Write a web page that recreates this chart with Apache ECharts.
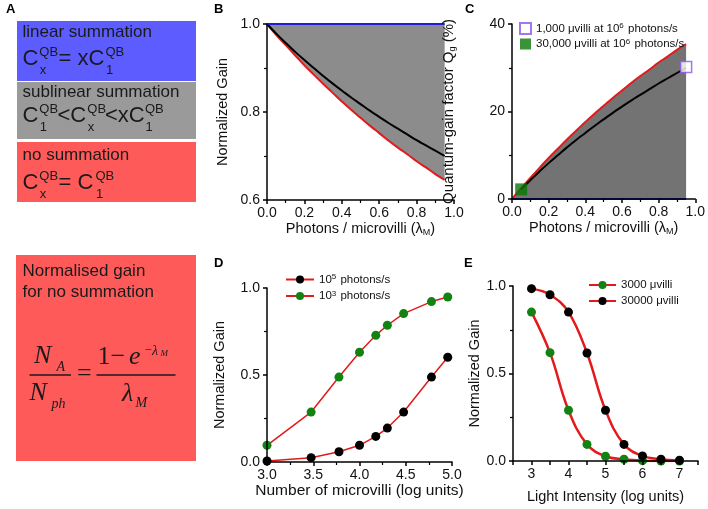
<!DOCTYPE html>
<html>
<head>
<meta charset="utf-8">
<script src="https://cdn.jsdelivr.net/npm/echarts@6/dist/echarts.min.js"></script>
<style>
  html, body { margin: 0; padding: 0; background: #fff; }
  #main { width: 708px; height: 509px; }
</style>
</head>
<body>
<div id="main"></div>
<script>
// ---- data ----
// panels B / C: photons per microvillus
const lamX = [0, 0.05, 0.1, 0.15, 0.2, 0.25, 0.3, 0.35, 0.4, 0.45, 0.5, 0.55, 0.6, 0.65, 0.7, 0.75, 0.8, 0.85, 0.9, 0.95]
const gainNoSum = [1.0, 0.975, 0.952, 0.929, 0.906, 0.885, 0.864, 0.844, 0.824, 0.805, 0.787, 0.769, 0.752, 0.735, 0.719, 0.704, 0.688, 0.674, 0.659, 0.646]
const gainSublin = [1.0, 0.978, 0.957, 0.937, 0.918, 0.900, 0.882, 0.865, 0.849, 0.833, 0.818, 0.803, 0.789, 0.775, 0.762, 0.749, 0.736, 0.724, 0.712, 0.700]
const gainLinear = [1.0, 1.0]
const linX = [0, 0.95]
const qgNoSum = [0, 2.5, 4.8, 7.1, 9.4, 11.5, 13.6, 15.6, 17.6, 19.5, 21.3, 23.1, 24.8, 26.5, 28.1, 29.6, 31.2, 32.6, 34.1, 35.4]
const qgSublin = [null, 2.2, 4.3, 6.3, 8.2, 10.0, 11.8, 13.5, 15.1, 16.7, 18.2, 19.7, 21.1, 22.5, 23.8, 25.1, 26.4, 27.6, 28.8, 30.0]
const qgLinear = [0, 0]
const pt1000 = [0.95, 30.2]
const pt30000 = [0.05, 2.2]

// panel D: number of microvilli (log units)
const logVilli = [3.0, 3.477, 3.778, 4.0, 4.176, 4.301, 4.477, 4.778, 4.954]
const gain1e5 = [0.006, 0.025, 0.059, 0.096, 0.147, 0.195, 0.287, 0.488, 0.602]
const gain1e3 = [0.096, 0.287, 0.488, 0.631, 0.728, 0.786, 0.853, 0.922, 0.948]

// panel E: light intensity (log units)
const logLight = [3, 3.5, 4, 4.5, 5, 5.5, 6, 6.5, 7]
const gain3000 = [0.851, 0.619, 0.290, 0.095, 0.027, 0.010, 0.002, 0.0, 0.0]
const gain30000 = [0.985, 0.950, 0.851, 0.617, 0.290, 0.095, 0.029, 0.010, 0.004]

const FONT = 'Arial, "Liberation Sans", sans-serif'
const SERIF = '"Times New Roman", "Liberation Serif", serif'
const RED = '#e31a1c'
const BLUE = '#1f1fd1'
const GREEN = '#128212'

const pairs = (xs, ys) => xs.map((x, i) => [x, ys[i]])

// common axis look
function axis(extra) {
  return Object.assign({
    type: 'value',
    z: 10,
    axisLine: {show: true, lineStyle: {color: '#000', width: 1.5}},
    axisTick: {show: true, inside: false, length: 4, lineStyle: {color: '#000', width: 1.5}},
    minorTick: {show: true, splitNumber: 2, length: 3, lineStyle: {color: '#000', width: 1.2}},
    splitLine: {show: false},
    axisLabel: {color: '#111', fontSize: 14, fontFamily: FONT, margin: 6},
    nameLocation: 'middle',
    nameTextStyle: {color: '#111', fontSize: 14.5, fontFamily: FONT,
      rich: {sub: {fontSize: 9, fontFamily: FONT, color: '#111', padding: [8, 0, 0, 0]}}}
  }, extra)
}

// panel A text pieces
function txt(x, y, text, font, fill) {
  return {type: 'text', x: x, y: y, style: {text: text, font: font, fill: fill || '#1a1a1a',
    textVerticalAlign: 'middle', verticalAlign: 'middle', textAlign: 'left', align: 'left'}}
}
const big = '22px ' + FONT
const small = '13px ' + FONT
const lab = '17px ' + FONT

function cqb(x, y, sub) { // superscript QB with a subscript below
  return [txt(x, y - 7, 'QB', small), txt(x + 0.5, y + 11, sub, small)]
}

const graphics = [
  {type: 'rect', shape: {x: 17, y: 21, width: 179, height: 60}, style: {fill: '#5c5cff'}},
  {type: 'rect', shape: {x: 17, y: 82, width: 179, height: 57}, style: {fill: '#9a9a9a'}},
  {type: 'rect', shape: {x: 17, y: 142, width: 179, height: 60}, style: {fill: '#ff5a5a'}},
  {type: 'rect', shape: {x: 16, y: 255, width: 180, height: 206}, style: {fill: '#ff5a5a'}},

  txt(22.5, 32, 'linear summation', lab),
  txt(22.5, 59, 'C', big), ...cqb(39.3, 59, 'x'), txt(58.5, 59, '= xC', big), ...cqb(105.5, 59, '1'),

  txt(22.5, 92, 'sublinear summation', lab),
  txt(22.5, 116, 'C', big), ...cqb(39.3, 116, '1'), txt(57.5, 116, '<C', big), ...cqb(87.3, 116, 'x'),
  txt(105, 116, '<xC', big), ...cqb(145, 116, '1'),

  txt(22.5, 155, 'no summation', lab),
  txt(22.5, 183, 'C', big), ...cqb(39.3, 183, 'x'), txt(58.5, 183, '= C', big), ...cqb(95.5, 183, '1'),

  txt(22.5, 271, 'Normalised gain', lab),
  txt(22.5, 292, 'for no summation', lab),
  // N_A / N_ph = (1 - e^-lambda_M) / lambda_M
  txt(34, 356, 'N', 'italic 26px ' + SERIF),
  txt(56.5, 367, 'A', 'italic 14px ' + SERIF),
  {type: 'line', shape: {x1: 29.5, y1: 375, x2: 71, y2: 375}, style: {stroke: '#1a1a1a', lineWidth: 1.3}},
  txt(29.5, 393, 'N', 'italic 26px ' + SERIF),
  txt(51.5, 404, 'ph', 'italic 14px ' + SERIF),
  txt(77, 374, '=', '26px ' + SERIF),
  {type: 'line', shape: {x1: 96.5, y1: 375, x2: 175.5, y2: 375}, style: {stroke: '#1a1a1a', lineWidth: 1.3}},
  txt(97.5, 357, '1', '26px ' + SERIF),
  txt(110.5, 357, '\u2212', '26px ' + SERIF),
  txt(129, 357, 'e', 'italic 26px ' + SERIF),
  txt(144.5, 351, '\u2212', '13px ' + SERIF),
  txt(152, 351, '\u03bb', 'italic 14px ' + SERIF),
  txt(160.5, 354, 'M', 'italic 9px ' + SERIF),
  txt(122, 394, '\u03bb', 'italic 26px ' + SERIF),
  txt(135.5, 403, 'M', 'italic 14px ' + SERIF),

  // panel letters
  txt(6, 9, 'A', 'bold 13px ' + FONT, '#000'),
  txt(214, 9, 'B', 'bold 13px ' + FONT, '#000'),
  txt(465, 9, 'C', 'bold 13px ' + FONT, '#000'),
  txt(214, 263, 'D', 'bold 13px ' + FONT, '#000'),
  txt(464, 263, 'E', 'bold 13px ' + FONT, '#000')
]

const supRich = {sup: {fontSize: 8, fontFamily: FONT, color: '#111', verticalAlign: 'top', padding: [0, 1, 5, 0]}}
const supFmt = name => name.replace(/\^(\d)/, '{sup|$1}')

var myChart = echarts.init(document.getElementById('main'))

let option = {
  animation: false,
  backgroundColor: '#fff',
  textStyle: {fontFamily: FONT},
  graphic: graphics,
  grid: [
    {left: 267, top: 24, width: 187, height: 176}, // B
    {left: 512, top: 24, width: 186, height: 175}, // C
    {left: 267, top: 288, width: 185, height: 174}, // D
    {left: 513, top: 286, width: 185, height: 175} // E
  ],
  xAxis: [
    axis({gridIndex: 0, min: 0, max: 1, interval: 0.2, axisLabel: {color: '#111', fontSize: 14, fontFamily: FONT, margin: 6, formatter: v => v.toFixed(1)},
      name: 'Photons / microvilli (\u03bb{sub|M})', nameGap: 20}),
    axis({gridIndex: 1, min: 0, max: 1, interval: 0.2, axisLabel: {color: '#111', fontSize: 14, fontFamily: FONT, margin: 6, formatter: v => v.toFixed(1)},
      name: 'Photons / microvilli (\u03bb{sub|M})', nameGap: 20}),
    axis({gridIndex: 2, min: 3, max: 5, interval: 0.5, axisLabel: {color: '#111', fontSize: 14, fontFamily: FONT, margin: 6, formatter: v => v.toFixed(1)},
      name: 'Number of microvilli (log units)', nameGap: 19,
      nameTextStyle: {color: '#111', fontSize: 15.5, fontFamily: FONT}}),
    axis({gridIndex: 3, min: 2.5, max: 7.5, interval: 0.5, minorTick: {show: false},
      axisLabel: {color: '#111', fontSize: 14, fontFamily: FONT, margin: 6, formatter: v => (v % 1 === 0 ? String(v) : '')},
      name: 'Light Intensity (log units)', nameGap: 28})
  ],
  yAxis: [
    axis({gridIndex: 0, min: 0.6, max: 1.0, interval: 0.2, axisLabel: {color: '#111', fontSize: 14, fontFamily: FONT, margin: 7, formatter: v => v.toFixed(1)},
      name: 'Normalized Gain', nameGap: 37}),
    axis({gridIndex: 1, min: 0, max: 40, interval: 20, axisLabel: {color: '#111', fontSize: 14, fontFamily: FONT, margin: 7},
      name: 'Quantum-gain factor Q{sub|g} (%)', nameGap: 55,
      nameTextStyle: {color: '#111', fontSize: 15, fontFamily: FONT,
        rich: {sub: {fontSize: 9, fontFamily: FONT, color: '#111', padding: [8, 0, 0, 0]}}}}),
    axis({gridIndex: 2, min: 0, max: 1, interval: 0.5, axisLabel: {color: '#111', fontSize: 14, fontFamily: FONT, margin: 7, formatter: v => v.toFixed(1)},
      name: 'Normalized Gain', nameGap: 40}),
    axis({gridIndex: 3, min: 0, max: 1, interval: 0.5, axisLabel: {color: '#111', fontSize: 14, fontFamily: FONT, margin: 7, formatter: v => v.toFixed(1)},
      name: 'Normalized Gain', nameGap: 28})
  ],
  legend: [
    { // C
      data: [{name: '1,000 \u03bcvilli at 10^6 photons/s', icon: 'rect'}, {name: '30,000 \u03bcvilli at 10^6 photons/s', icon: 'rect'}],
      orient: 'vertical', left: 514, top: 17, itemWidth: 11, itemHeight: 11, itemGap: 2.5,
      formatter: supFmt,
      textStyle: {fontSize: 11.5, fontFamily: FONT, color: '#111', rich: supRich}
    },
    { // D
      data: ['10^5 photons/s', '10^3 photons/s'],
      orient: 'vertical', left: 280, top: 268, itemWidth: 28, itemHeight: 10, itemGap: 4,
      formatter: supFmt,
      textStyle: {fontSize: 11.5, fontFamily: FONT, color: '#111', rich: supRich}
    },
    { // E
      data: ['3000 \u03bcvilli', '30000 \u03bcvilli'],
      orient: 'vertical', left: 583, top: 274, itemWidth: 27, itemHeight: 10, itemGap: 4,
      textStyle: {fontSize: 11.5, fontFamily: FONT, color: '#111'}
    }
  ],
  series: [
    // ---- B ----
    {
      name: 'B no summation', type: 'line', xAxisIndex: 0, yAxisIndex: 0, symbol: 'none', smooth: true,
      data: pairs(lamX, gainNoSum), lineStyle: {color: RED, width: 2},
      areaStyle: {color: '#8c8c8c', opacity: 1, origin: 'end'}, z: 2
    },
    {
      name: 'B sublinear', type: 'line', xAxisIndex: 0, yAxisIndex: 0, symbol: 'none', smooth: true,
      data: pairs(lamX, gainSublin), lineStyle: {color: '#000', width: 2}, z: 4
    },
    {
      name: 'B linear', type: 'line', xAxisIndex: 0, yAxisIndex: 0, symbol: 'none',
      data: pairs(linX, gainLinear), lineStyle: {color: BLUE, width: 2.2}, z: 5
    },
    // ---- C ----
    {
      name: 'C no summation', type: 'line', xAxisIndex: 1, yAxisIndex: 1, symbol: 'none', smooth: true,
      data: pairs(lamX, qgNoSum), lineStyle: {color: RED, width: 2},
      areaStyle: {color: '#737373', opacity: 1, origin: 'start'}, z: 2
    },
    {
      name: 'C sublinear', type: 'line', xAxisIndex: 1, yAxisIndex: 1, symbol: 'none', smooth: true,
      data: pairs(lamX, qgSublin), lineStyle: {color: '#000', width: 2}, z: 3
    },
    {
      name: 'C linear', type: 'line', xAxisIndex: 1, yAxisIndex: 1, symbol: 'none',
      data: pairs(linX, qgLinear), lineStyle: {color: BLUE, width: 2.2}, z: 4
    },
    {
      name: '1,000 \u03bcvilli at 10^6 photons/s', type: 'scatter', xAxisIndex: 1, yAxisIndex: 1,
      symbol: 'rect', symbolSize: 11, data: [pt1000],
      itemStyle: {color: '#fff', borderColor: '#8b55e6', borderWidth: 1.5}, z: 6
    },
    {
      name: '30,000 \u03bcvilli at 10^6 photons/s', type: 'scatter', xAxisIndex: 1, yAxisIndex: 1,
      symbol: 'rect', symbolSize: 12, data: [pt30000],
      itemStyle: {color: '#087808'}, z: 6
    },
    // ---- D ----
    {
      name: '10^5 photons/s', type: 'line', xAxisIndex: 2, yAxisIndex: 2,
      symbol: 'circle', symbolSize: 9, data: pairs(logVilli, gain1e5),
      lineStyle: {color: RED, width: 1.5}, itemStyle: {color: '#000'}
    },
    {
      name: '10^3 photons/s', type: 'line', xAxisIndex: 2, yAxisIndex: 2,
      symbol: 'circle', symbolSize: 9, data: pairs(logVilli, gain1e3),
      lineStyle: {color: RED, width: 1.5}, itemStyle: {color: GREEN}
    },
    // ---- E ----
    {
      name: '3000 \u03bcvilli', type: 'line', xAxisIndex: 3, yAxisIndex: 3, smooth: 0.4,
      symbol: 'circle', symbolSize: 9, data: pairs(logLight, gain3000),
      lineStyle: {color: RED, width: 2.5}, itemStyle: {color: GREEN}
    },
    {
      name: '30000 \u03bcvilli', type: 'line', xAxisIndex: 3, yAxisIndex: 3, smooth: 0.4,
      symbol: 'circle', symbolSize: 9, data: pairs(logLight, gain30000),
      lineStyle: {color: RED, width: 2.5}, itemStyle: {color: '#000'}
    }
  ]
}

option && myChart.setOption(option)
</script>
</body>
</html>
